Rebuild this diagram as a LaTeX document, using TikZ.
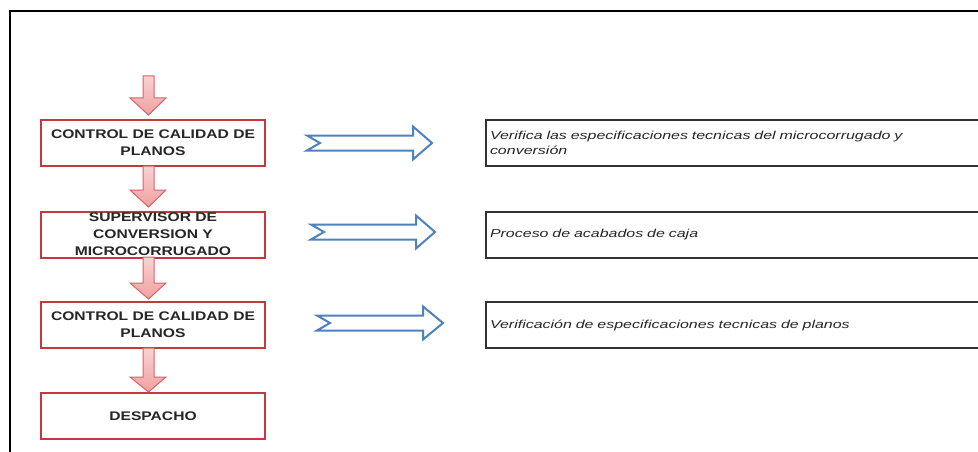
\documentclass[tikz,border=0pt]{standalone}
\usepackage{fontspec}
\setmainfont{Liberation Sans}
\newfontfamily\leftfont[FakeStretch=1.25]{Liberation Sans}
\newfontfamily\rightfont[FakeStretch=1.39]{Liberation Sans}
\definecolor{boxred}{RGB}{196,56,62}
\definecolor{arrred}{RGB}{214,100,104}
\definecolor{pinktop}{RGB}{250,210,210}
\definecolor{pinkbot}{RGB}{240,160,160}
\definecolor{arrblue}{RGB}{79,129,189}
\definecolor{txt}{RGB}{38,38,38}
\definecolor{rbox}{RGB}{50,50,50}
\tikzset{
  stepbox/.style={draw=boxred, line width=2pt, fill=white, minimum width=224pt, minimum height=46pt,
    inner xsep=2pt, inner ysep=0pt, align=center, text=txt,
    font=\leftfont\bfseries\fontsize{12.5}{17}\selectfont},
  descbox/.style={draw=rbox, line width=2pt, fill=white, anchor=west, minimum height=46pt,
    text width=500pt, inner xsep=4pt, inner ysep=2pt, align=left, text=txt,
    font=\rightfont\itshape\fontsize{11.5}{15}\selectfont},
  redarrow/.style={draw=arrred, line width=1pt, top color=pinktop, bottom color=pinkbot},
  bluearrow/.style={draw=arrblue, line width=2pt, fill=white, line join=miter},
  frame/.style={draw=black, line width=1.5pt}
}
% red block arrow: top, head start, tip (y values)
\newcommand\redarr[3]{%
  \path[redarrow] (143,#1) -- (154,#1) -- (154,#2) -- (166,#2) -- (148.5,#3) -- (130,#2) -- (143,#2) -- cycle;}
% blue notched arrow: tail x, head start x, tip x, centre y
\newcommand\bluearr[4]{%
  \path[bluearrow] (#1,#4-7.5) -- (#2,#4-7.5) -- (#2,#4-16.5) -- (#3,#4) -- (#2,#4+16.5) -- (#2,#4+7.5)
    -- (#1,#4+7.5) -- (#1+13,#4) -- cycle;}
\begin{document}
\begin{tikzpicture}[x=1pt,y=-1pt]
\clip (0,0) rectangle (978,452);
\fill[white] (0,0) rectangle (978,452);
\draw[frame] (10,460) -- (10,11) -- (990,11);

% left process boxes
\node[stepbox] (b1) at (153,143) {CONTROL DE CALIDAD DE\\PLANOS};
\node[stepbox] (b2) at (153,234.5) {SUPERVISOR DE\\CONVERSION Y\\MICROCORRUGADO};
\node[stepbox] (b3) at (153,325) {CONTROL DE CALIDAD DE\\PLANOS};
\node[stepbox] (b4) at (153,416) {DESPACHO};

% red arrows
\redarr{76}{98}{115}
\redarr{166}{190}{207}
\redarr{257}{283}{299}
\redarr{348}{377}{392}

% right description boxes
\node[descbox] (d1) at (485,143) {Verifica las especificaciones tecnicas del microcorrugado y\\conversión};
\node[descbox] (d2) at (485,234.5) {Proceso de acabados de caja};
\node[descbox] (d3) at (485,325) {Verificación de especificaciones tecnicas de planos};

% blue arrows
\bluearr{307}{413}{432}{143}
\bluearr{311}{416}{435}{232}
\bluearr{317}{423}{443}{323}
\end{tikzpicture}
\end{document}
